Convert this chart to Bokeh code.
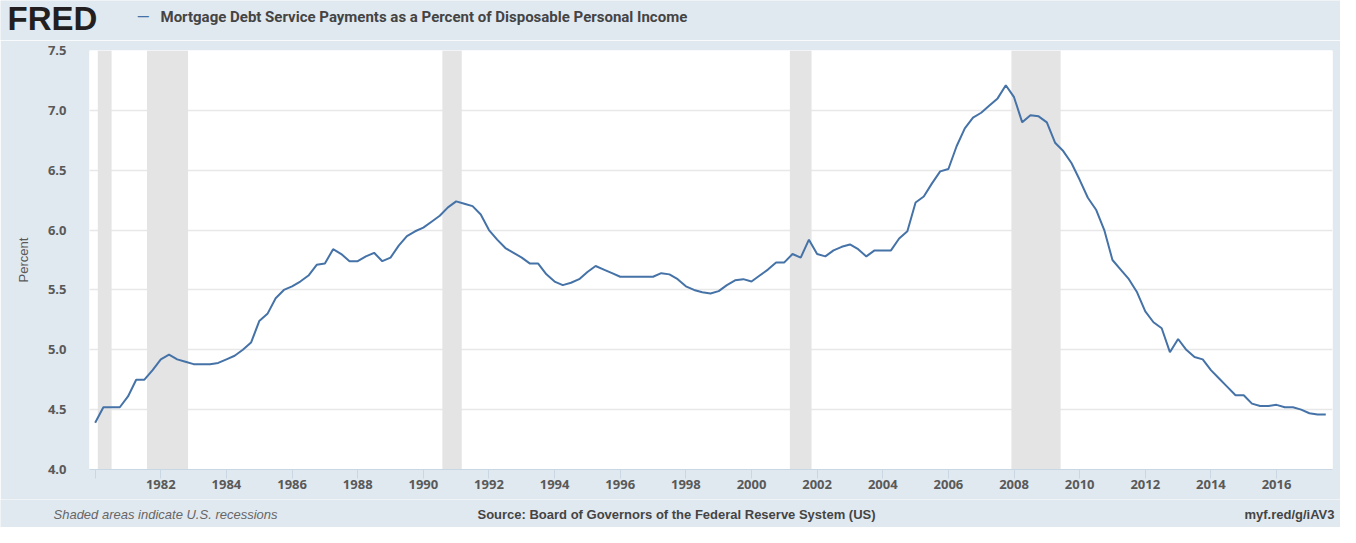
from bokeh.plotting import figure
from bokeh.layouts import column
from bokeh.models import Label, FixedTicker, NumeralTickFormatter, Range1d
from bokeh.embed import file_html
from bokeh.resources import INLINE

# ---- data (quarterly, 1980Q1 .. 2017Q3) ----
values = [
    4.39, 4.52, 4.52, 4.52, 4.61, 4.75, 4.75, 4.83, 4.92, 4.96, 4.92, 4.90,
    4.88, 4.88, 4.88, 4.89, 4.92, 4.95, 5.00, 5.06, 5.24, 5.30, 5.43, 5.50,
    5.53, 5.57, 5.62, 5.71, 5.72, 5.84, 5.80, 5.74, 5.74, 5.78, 5.81, 5.74,
    5.77, 5.87, 5.95, 5.99, 6.02, 6.07, 6.12, 6.19, 6.24,
    6.22, 6.20, 6.13, 6.00, 5.92, 5.85, 5.81, 5.77, 5.72, 5.72, 5.63, 5.57,
    5.54, 5.56, 5.59, 5.65, 5.70, 5.67, 5.64, 5.61, 5.61, 5.61, 5.61, 5.61,
    5.64, 5.63, 5.59, 5.53, 5.50, 5.48, 5.47, 5.49, 5.54, 5.58, 5.59, 5.57,
    5.62, 5.67, 5.73, 5.73, 5.80, 5.77, 5.92, 5.80, 5.78, 5.83, 5.86, 5.88,
    5.84, 5.78, 5.83, 5.83, 5.83,
    5.93, 5.99, 6.23, 6.28, 6.39, 6.49, 6.51, 6.70, 6.85, 6.94, 6.98, 7.04,
    7.10, 7.21, 7.11, 6.90, 6.96, 6.95, 6.90, 6.73, 6.66, 6.56, 6.42, 6.27,
    6.17, 6.00, 5.75, 5.67, 5.59, 5.48, 5.32, 5.23, 5.18, 4.98, 5.09, 5.00,
    4.94, 4.92, 4.83, 4.76, 4.69, 4.62, 4.62, 4.55, 4.53, 4.53, 4.54, 4.52,
    4.52, 4.50, 4.47, 4.46, 4.46,
]
start_year = 1980
dates = [start_year + i / 4 for i in range(len(values))]

recession_start = [1980.08, 1981.58, 1990.58, 2001.17, 2007.92]
recession_end = [1980.50, 1982.83, 1991.17, 2001.83, 2009.42]

x_ticks = [1980, 1982, 1984, 1986, 1988, 1990, 1992, 1994, 1996, 1998, 2000,
           2002, 2004, 2006, 2008, 2010, 2012, 2014, 2016]
x_tick_labels = [""] + [str(t) for t in x_ticks[1:]]
y_ticks = [4.0, 4.5, 5.0, 5.5, 6.0, 6.5, 7.0, 7.5]

title_text = "Mortgage Debt Service Payments as a Percent of Disposable Personal Income"
source_text = "Source: Board of Governors of the Federal Reserve System (US)"
note_text = "Shaded areas indicate U.S. recessions"
link_text = "myf.red/g/iAV3"

BG = "#e1e9f0"
LINE = "#4572a7"
TXT = "#595959"
DARK = "#444444"
FONT = "Open Sans"
W = 1340
H_HEAD, H_MAIN, H_FOOT = 40, 459, 28


def strip(fig):
    fig.axis.visible = False
    fig.grid.visible = False
    fig.outline_line_color = None
    fig.background_fill_color = BG
    fig.border_fill_color = BG
    return fig


# ---- header (pixel coordinates, y measured from top) ----
header = strip(figure(width=W, height=H_HEAD, output_backend="svg", toolbar_location=None,
                      x_range=Range1d(0, W), y_range=Range1d(H_HEAD, 0),
                      min_border=0, frame_align=False))
header.add_layout(Label(x=7, y=18, text="FRED", text_font="Liberation Sans",
                        text_font_style="bold", text_font_size="33px",
                        text_color="#231f20", text_baseline="middle"))
header.add_layout(Label(x=136, y=16, text="\u2014", text_font="Roboto",
                        text_font_size="17px", text_color=LINE, text_baseline="middle"))
header.add_layout(Label(x=160, y=16, text=title_text, text_font="Roboto",
                        text_font_size="15px", text_font_style="bold",
                        text_color=DARK, text_baseline="middle"))

# ---- main chart ----
p = figure(width=W, height=H_MAIN, output_backend="svg", toolbar_location=None,
           x_range=Range1d(1979.827, 2017.705), y_range=Range1d(4.0, 7.5),
           min_border_left=89, min_border_right=8, min_border_top=10,
           min_border_bottom=30, frame_align=False)
p.border_fill_color = BG
p.background_fill_color = "white"
p.outline_line_color = None

p.quad(left=recession_start, right=recession_end, bottom=y_ticks[0], top=y_ticks[-1],
       fill_color="#e4e4e4", line_color=None)
p.line(dates, values, line_color=LINE, line_width=2)

p.xaxis.ticker = FixedTicker(ticks=x_ticks)
p.xaxis.major_label_overrides = {t: l for t, l in zip(x_ticks, x_tick_labels)}
p.xaxis.minor_tick_line_color = None
p.xaxis.major_tick_in = 0
p.xaxis.major_tick_out = 9
p.xaxis.major_tick_line_color = "#c9d6e3"
p.xaxis.axis_line_color = "#c9d6e3"
p.xaxis.major_label_standoff = 1
p.xaxis.major_label_text_font = FONT
p.xaxis.major_label_text_font_size = "13px"
p.xaxis.major_label_text_font_style = "bold"
p.xaxis.major_label_text_color = TXT

p.yaxis.ticker = FixedTicker(ticks=y_ticks)
p.yaxis.formatter = NumeralTickFormatter(format="0.0")
p.yaxis.minor_tick_line_color = None
p.yaxis.major_tick_line_color = None
p.yaxis.axis_line_color = None
p.yaxis.major_label_standoff = 17
p.yaxis.major_label_text_font = FONT
p.yaxis.major_label_text_font_size = "13px"
p.yaxis.major_label_text_font_style = "bold"
p.yaxis.major_label_text_color = TXT
p.yaxis.axis_label = "Percent"
p.yaxis.axis_label_text_font = "Liberation Sans"
p.yaxis.axis_label_text_font_size = "13px"
p.yaxis.axis_label_text_font_style = "normal"
p.yaxis.axis_label_text_color = TXT
p.yaxis.axis_label_standoff = 14

p.xgrid.grid_line_color = None
p.ygrid.grid_line_color = "#e8e8e8"
p.ygrid.grid_line_width = 1.5

# ---- footer (pixel coordinates, y measured from top) ----
footer = strip(figure(width=W, height=H_FOOT, output_backend="svg", toolbar_location=None,
                      x_range=Range1d(0, W), y_range=Range1d(H_FOOT, 0),
                      min_border=0, frame_align=False))
footer.add_layout(Label(x=53, y=15, text=note_text, text_font="Liberation Sans",
                        text_font_size="13px", text_font_style="italic",
                        text_color="#666666", text_baseline="middle"))
footer.add_layout(Label(x=676, y=15, text=source_text, text_font="Liberation Sans",
                        text_font_size="13px", text_font_style="bold",
                        text_color=DARK, text_baseline="middle", text_align="center"))
footer.add_layout(Label(x=1334, y=15, text=link_text, text_font="Liberation Sans",
                        text_font_size="13px", text_font_style="bold",
                        text_color=DARK, text_baseline="middle", text_align="right"))

layout = column(header, p, footer, spacing=0)
open("out.html", "w").write(file_html(layout, INLINE))
